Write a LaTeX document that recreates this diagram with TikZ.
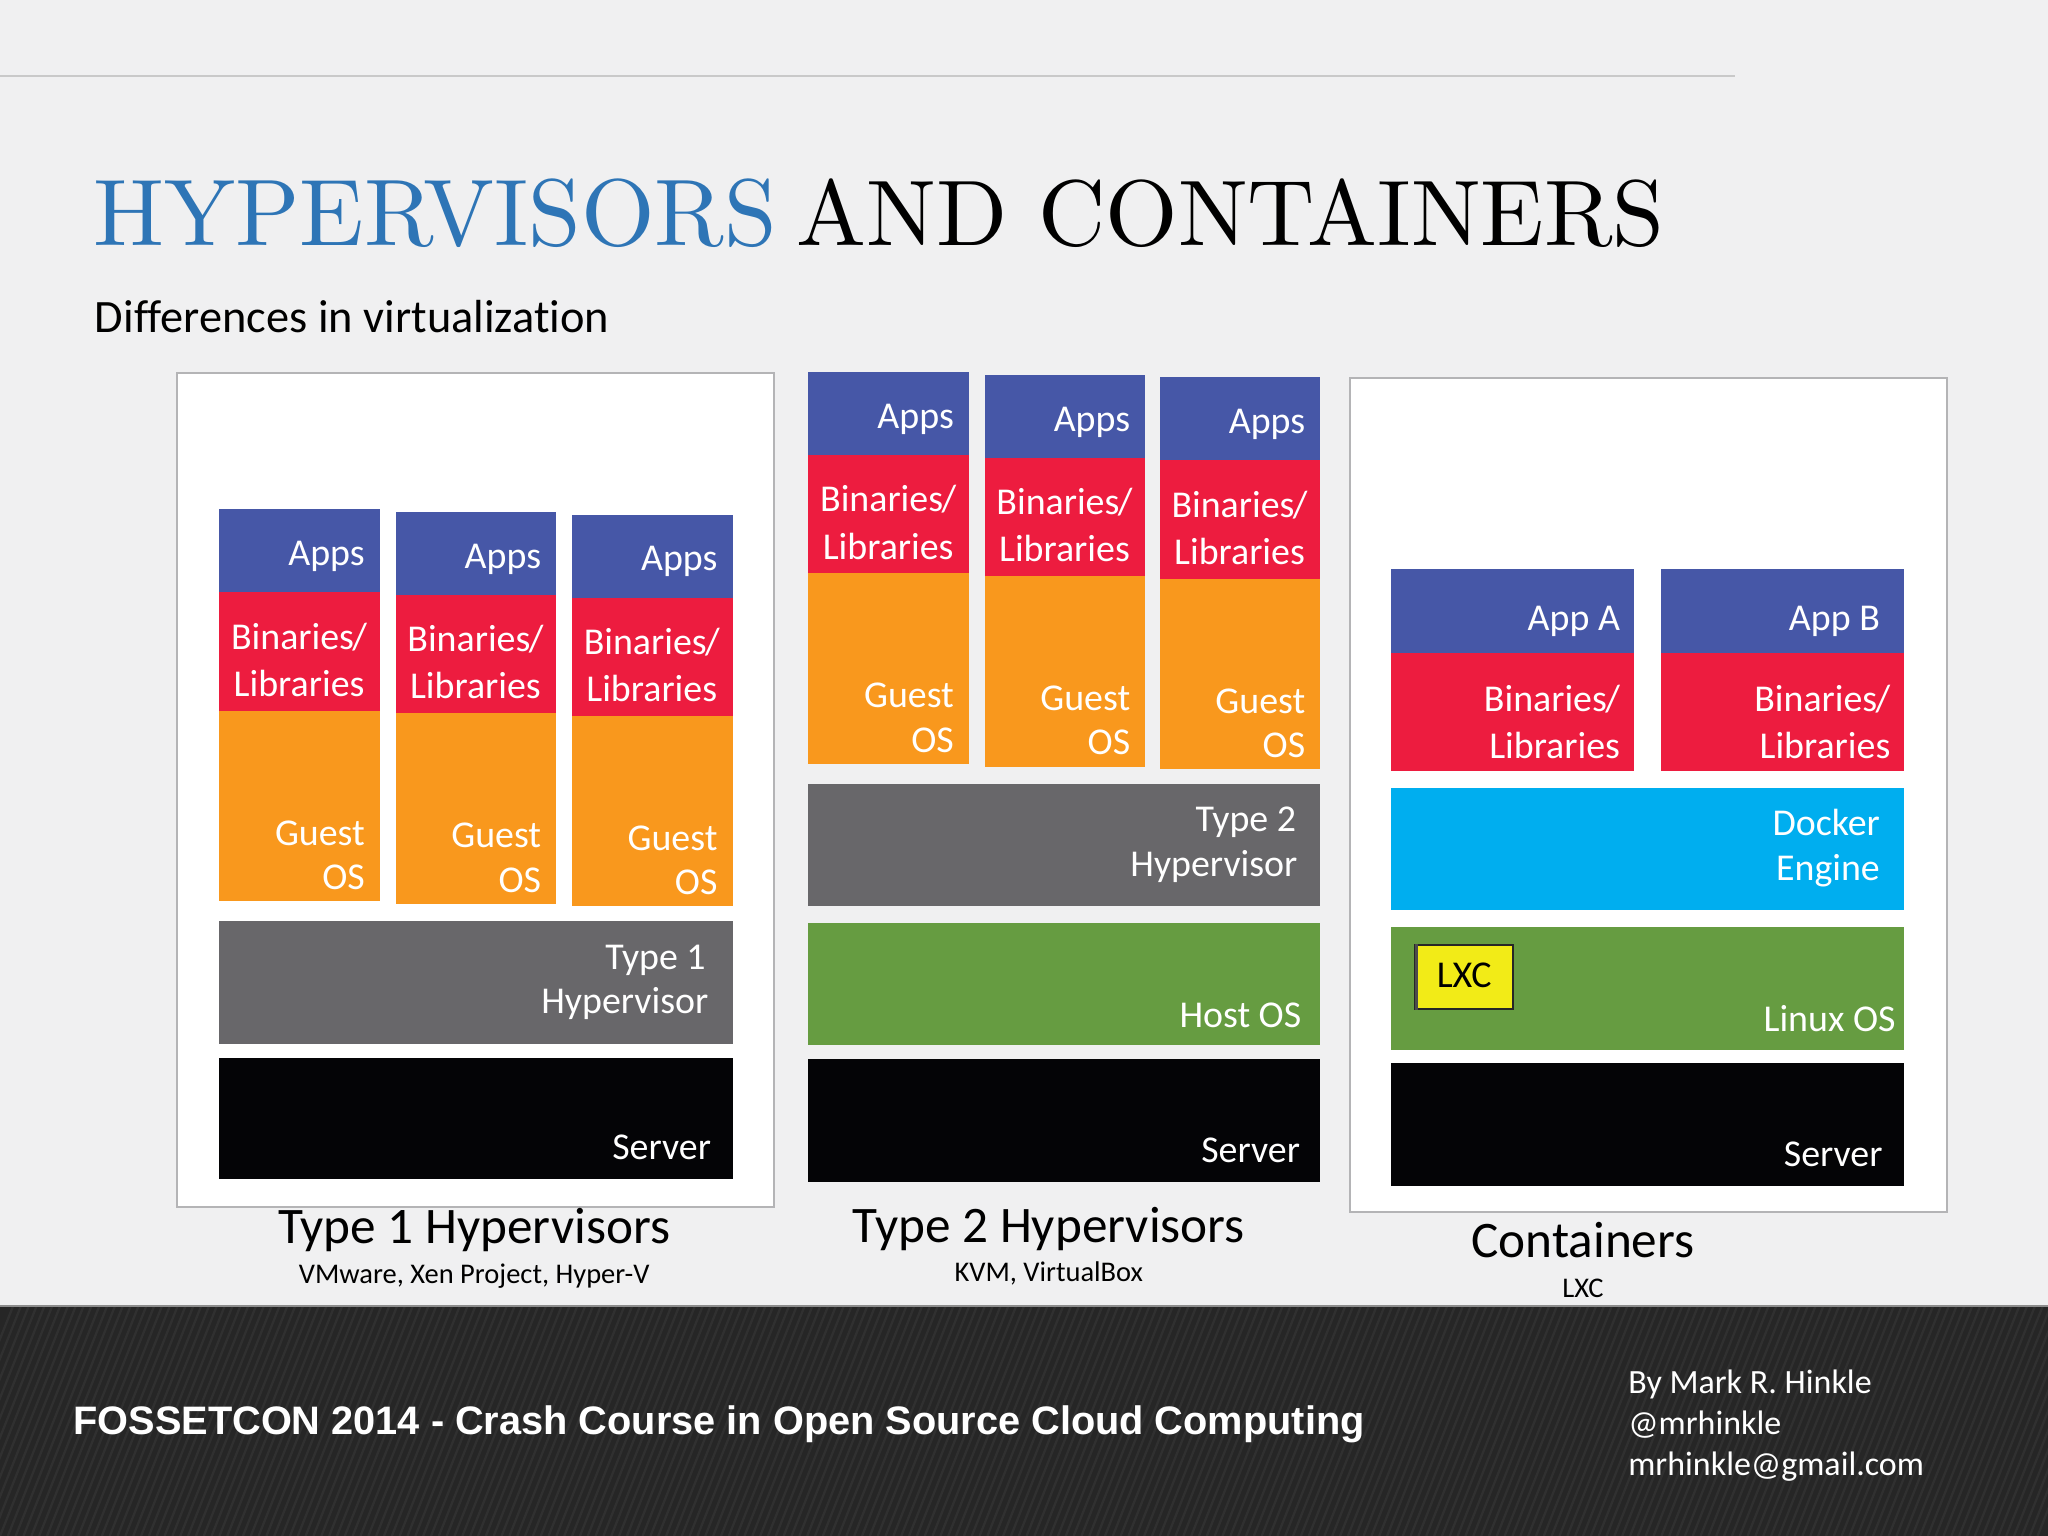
\documentclass[tikz,border=0pt]{standalone}
\usepackage{fontspec}
\setmainfont{Latin Modern Roman}
\newfontfamily\titlef{lmroman10-regular}[Extension=.otf]
\newfontfamily\bodyf{Carlito}[Ligatures=NoCommon]
\newfontfamily\footf{Liberation Sans}
\newcommand\px[1]{\fontsize{\fpeval{#1*0.2845}pt}{\fpeval{#1*0.32}pt}\selectfont}
\definecolor{pagebg}{HTML}{F0F0F1}
\definecolor{rulec}{HTML}{C9C9C9}
\definecolor{framec}{HTML}{B4B4B6}
\definecolor{titleblue}{HTML}{2E75B6}
\definecolor{appsc}{HTML}{4657A7}
\definecolor{redc}{HTML}{ED1C3F}
\definecolor{orangec}{HTML}{F9981D}
\definecolor{grayc}{HTML}{68676A}
\definecolor{blackc}{HTML}{040406}
\definecolor{greenc}{HTML}{669C41}
\definecolor{cyanc}{HTML}{00AEEF}
\definecolor{yellowc}{HTML}{F2EB17}
\definecolor{footc}{HTML}{262626}
\definecolor{footl}{HTML}{303030}
\newcommand\binslash{Binaries\kern-0.35pt/}
\tikzset{
  lab/.style={inner sep=0pt,text=white,font=\bodyf\px{29}},
  labr/.style={lab,anchor=base east},
  labc/.style={lab,anchor=base},
  captext/.style={inner sep=0pt,anchor=base,text=black,font=\bodyf\px{39.2}},
  subcap/.style={inner sep=0pt,anchor=base,text=black,font=\bodyf\px{21.8}},
  foot/.style={inner sep=0pt,anchor=base west,text=white,font=\bodyf\px{26}},
  panel/.style={fill=white,draw=framec,line width=0.35pt}
}
% name, left x, top y
\newcommand\guest[3]{%
  \fill[appsc] (#2,#3) rectangle (#2+123,#3+63.5);
  \fill[redc] (#2,#3+63.5) rectangle (#2+123,#3+154);
  \fill[orangec] (#2,#3+154) rectangle (#2+123,#3+300);
  \node[labr] (#1a) at (#2+112,#3+43) {Apps};
  \node[labc] (#1b) at (#2+61,#3+107) {\binslash};
  \node[labc] (#1l) at (#2+61,#3+143) {Libraries};
  \node[labr] (#1g) at (#2+112,#3+257) {Guest};
  \node[labr] (#1o) at (#2+112,#3+291) {OS};
}
\begin{document}
\begin{tikzpicture}[x=0.01cm,y=-0.01cm]
\useasboundingbox (0,0) rectangle (1568,1176);
\fill[pagebg] (0,0) rectangle (1568,1176);
\draw[rulec,line width=0.4pt] (0,58.5) -- (1328,58.5);
% footer
\fill[footc] (0,1000) rectangle (1568,1176);
\begin{scope}
\clip (0,1001) rectangle (1568,1176);
\foreach \i in {-60,-54,...,1560}{
  \draw[footl,line width=0.5pt] (\i,1176) -- (\i+70,1000);
}
\end{scope}
\fill[black!45] (0,999) rectangle (1568,1001);
% title
\node[inner sep=0pt,anchor=base west,text=titleblue,font=\titlef\px{72.4}] (t1) at (71,188) {HYPERVISORS};
\node[inner sep=0pt,anchor=base west,text=black,font=\titlef\px{71.3}] (t2) at (609,188) {AND CONTAINERS};
\node[inner sep=0pt,anchor=base west,text=black,font=\bodyf\px{35.5}] (t3) at (72,254.5) {Differences in virtualization};
% Panel 1
\draw[panel] (135.5,285.5) rectangle (592.5,924);
\guest{pa}{168}{390}
\guest{pb}{303}{392}
\guest{pc}{438}{394}
\fill[grayc] (168,705) rectangle (561,799);
\node[labr] (h1a) at (541,742) {Type 1};
\node[labr] (h1b) at (543,776) {Hypervisor};
\fill[blackc] (168,810) rectangle (561,903);
\node[labr] (s1) at (545,888) {Server};
\node[captext] (c1) at (363,952) {Type 1 Hypervisors};
\node[subcap] (d1) at (363,982.5) {VMware, Xen Project, Hyper-V};
% Panel 2
\guest{qa}{619}{285}
\guest{qb}{754}{287}
\guest{qc}{888}{289}
\fill[grayc] (619,600) rectangle (1011,694);
\node[labr] (h2a) at (993,637) {Type 2};
\node[labr] (h2b) at (994,671) {Hypervisor};
\fill[greenc] (619,707) rectangle (1011,800);
\node[labr] (o2) at (997,787) {Host OS};
\fill[blackc] (619,811) rectangle (1011,905);
\node[labr] (s2) at (996,890) {Server};
\node[captext] (c2) at (803,951) {Type 2 Hypervisors};
\node[subcap] (d2) at (803,981.5) {KVM, VirtualBox};
% Panel 3
\draw[panel] (1033.5,289.5) rectangle (1490.5,928);
\fill[appsc] (1065,436) rectangle (1251,500);
\fill[redc] (1065,500) rectangle (1251,590);
\fill[appsc] (1272,436) rectangle (1458,500);
\fill[redc] (1272,500) rectangle (1458,590);
\node[labr] (aa) at (1241,483) {App A};
\node[labr] (ab) at (1241,545) {\binslash};
\node[labr] (al) at (1241,581) {Libraries};
\node[labr] (ba) at (1440,483) {App B};
\node[labr] (bb) at (1448,545) {\binslash};
\node[labr] (bl) at (1448,581) {Libraries};
\fill[cyanc] (1065,603) rectangle (1458,697);
\node[labr] (e1) at (1440,640) {Docker};
\node[labr] (e2) at (1440,674) {Engine};
\fill[greenc] (1065,710) rectangle (1458,804);
\node[labr] (o3) at (1452,790) {Linux OS};
\draw[fill=yellowc,draw=black!85,line width=0.5pt] (1083.5,723.5) rectangle (1158.5,772.5);
\fill[black!70] (1083,723) rectangle (1086,773);
\node[lab,anchor=base,text=black] (lx) at (1121,756) {LXC};
\fill[blackc] (1065,814) rectangle (1458,908);
\node[labr] (s3) at (1442,893) {Server};
\node[captext] (c3) at (1212,963) {Containers};
\node[subcap] (d3) at (1212,993.5) {LXC};
% footer text
\node[inner sep=0pt,anchor=base west,text=white,font=\footf\bfseries\px{30.4}] (f1) at (55.5,1098.5) {FOSSETCON 2014 - Crash Course in Open Source Cloud Computing};
\node[foot] (f2) at (1246,1067) {By Mark R. Hinkle};
\node[foot] (f3) at (1246,1098) {@mrhinkle};
\node[foot] (f4) at (1246,1130) {mrhinkle@gmail.com};
\end{tikzpicture}
\end{document}
